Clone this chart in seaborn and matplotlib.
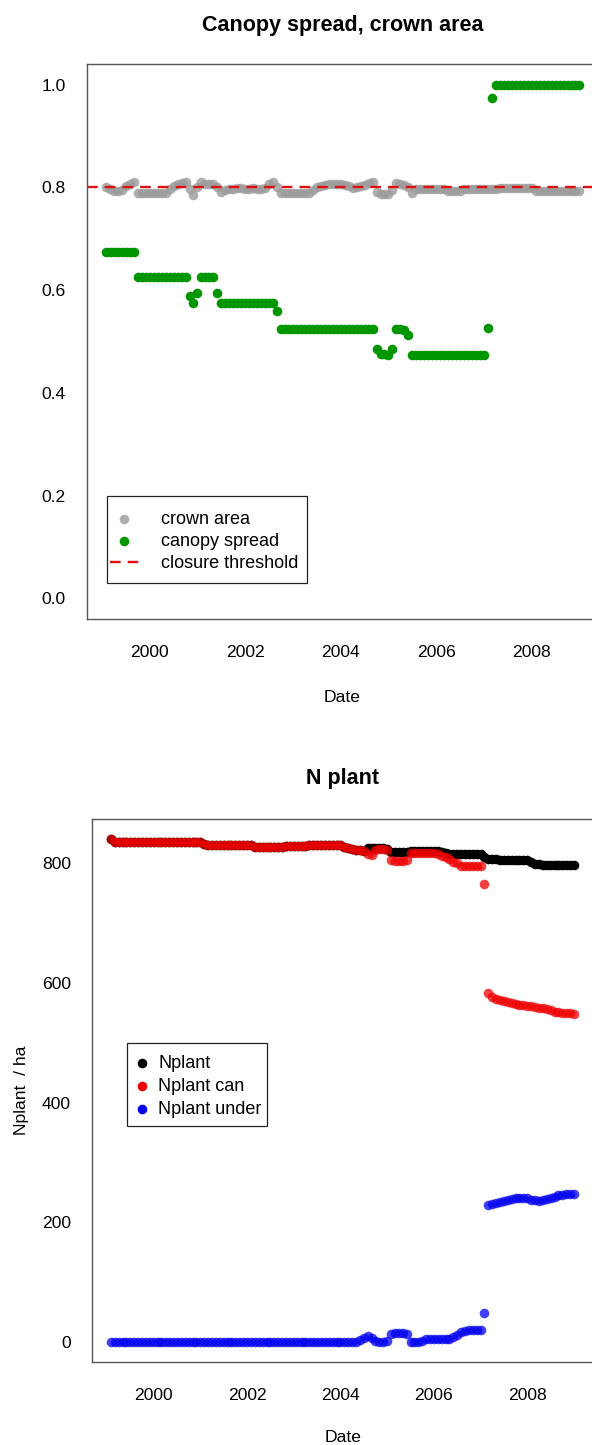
import numpy as np
import pandas as pd
import matplotlib
matplotlib.use("Agg")
import matplotlib.pyplot as plt
from matplotlib.patches import Rectangle
import seaborn as sns

# ---------------- data ----------------
months = np.arange(1, 121)
date = 1999 + months / 12.0

canopy_spread = (
    [0.675] * 8 + [0.625] * 13 + [0.589, 0.574, 0.595] + [0.625] * 4 + [0.595]
    + [0.575] * 14 + [0.560] + [0.525] * 24
    + [0.485, 0.475, 0.475, 0.473, 0.485] + [0.525, 0.525, 0.522, 0.513]
    + [0.474] * 19 + [0.526, 0.973] + [1.0] * 22
)

crown_area = (
    [0.800, 0.797, 0.793, 0.792, 0.795, 0.802, 0.806, 0.810]
    + [0.789] * 8
    + [0.797, 0.803, 0.806, 0.809, 0.810]
    + [0.797, 0.786, 0.800]
    + [0.810, 0.807, 0.807, 0.807]
    + [0.800, 0.791]
    + [0.795, 0.796, 0.797, 0.798, 0.798, 0.797, 0.797, 0.798, 0.797, 0.796, 0.798]
    + [0.806, 0.810, 0.800]
    + [0.789] * 8
    + [0.795, 0.800, 0.803, 0.805, 0.806, 0.807, 0.807, 0.807, 0.805, 0.802,
       0.799, 0.800, 0.803, 0.805, 0.808, 0.810]
    + [0.790, 0.787, 0.787, 0.788, 0.795]
    + [0.808, 0.806, 0.804, 0.800]
    + [0.789]
    + [0.796] * 8 + [0.793] * 4 + [0.797] * 9 + [0.798] * 9 + [0.793] * 12
)

nplant_can = (
    [841] + [835] * 23 + [833, 831, 830]
    + [830] * 10 + [828] * 8 + [829] * 6 + [831] * 9
    + [828, 826, 824, 823, 822, 821, 816, 814, 822, 824, 824, 823]
    + [805, 804, 804, 804, 805]
    + [818] * 7
    + [815, 813, 810, 807, 803, 800]
    + [796] * 6
    + [766, 583, 576, 574, 572, 570, 568, 566, 565, 564, 563, 562, 561, 560,
       559, 558, 556, 554, 552, 551, 550, 549, 549, 548]
)

nplant = (
    nplant_can[:66]
    + [826, 825, 825, 825, 825, 824]
    + [819, 819, 819, 819, 819]
    + [821] * 7 + [820, 819, 818]
    + [816] * 9
    + [811, 807, 807, 807]
    + [806] * 8
    + [803, 799, 799]
    + [797] * 9
)

nplant_under = (
    [0] * 64
    + [3, 7, 9, 6, 2, 0, 0, 1, 14, 15, 15, 15, 14, 0, 0, 0, 2]
    + [5] * 7
    + [8, 12, 16, 19, 20, 20, 20, 20, 48]
    + [228, 231, 233, 234, 236, 238, 239, 240, 241, 241, 240, 238, 237, 236,
       237, 239, 241, 243, 245, 246, 247, 248, 248]
)

closure_threshold = 0.8

# ---------------- style ----------------
sns.set_style("white")
plt.rcParams['font.family'] = ['Liberation Sans', 'DejaVu Sans']
plt.rcParams['text.color'] = 'black'
plt.rcParams['axes.labelcolor'] = 'black'

TICK_FS = 12.6
LEG_FS = 13.0
TITLE_FS = 15.5
SPINE_C = "#555555"
MS = 48

fig = plt.figure(figsize=(5.92, 14.45), dpi=100)
W, H = 592.0, 1445.0

rng = date.max() - date.min()
xlim = (date.min() - 0.04 * rng, date.max() + 0.04 * rng)


def axes_px(left, top, right, bottom):
    return fig.add_axes([left / W, 1 - bottom / H, (right - left) / W, (bottom - top) / H])


def frame_px(left, top, right, bottom):
    fig.add_artist(Rectangle((left / W, 1 - bottom / H), (right - left) / W,
                             (bottom - top) / H, transform=fig.transFigure,
                             fill=False, edgecolor='#222222', linewidth=0.9))


def style_axes(ax):
    for sp in ax.spines.values():
        sp.set_visible(True)
        sp.set_color(SPINE_C)
        sp.set_linewidth(1.0)
    ax.tick_params(axis='both', direction='in', length=4, width=0.8,
                   color=SPINE_C, labelsize=TICK_FS, labelcolor='black')
    ax.tick_params(axis='x', pad=19)
    ax.tick_params(axis='y', pad=15.5)
    ax.set_xlim(*xlim)
    ax.set_xticks([2000, 2002, 2004, 2006, 2008])
    ax.grid(False)


# ---------------- panel 1 ----------------
ax1 = axes_px(87, 64, 87 + 511.4, 619)
df1 = pd.DataFrame({'Date': date, 'crown': crown_area, 'spread': canopy_spread})
sns.scatterplot(data=df1, x='Date', y='crown', color='#9a9a9a', alpha=0.8, s=MS,
                linewidth=0, ax=ax1, label='crown area')
sns.scatterplot(data=df1, x='Date', y='spread', color='#009600', s=MS,
                linewidth=0, ax=ax1, label='canopy spread')
ax1.axhline(closure_threshold, color='#dd1111', lw=1.7, dashes=(4.5, 3.0),
            label='closure threshold')
ax1.set_ylim(-0.04, 1.04)
ax1.set_yticks([0.0, 0.2, 0.4, 0.6, 0.8, 1.0])
ax1.set_yticklabels(['0.0', '0.2', '0.4', '0.6', '0.8', '1.0'])
style_axes(ax1)
ax1.set_title('Canopy spread, crown area', fontsize=TITLE_FS, fontweight='bold',
              pad=24, color='black')
ax1.set_xlabel('Date', fontsize=TICK_FS)
ax1.xaxis.set_label_coords(255 / 511.4, -(697 - 619) / 555.0)
ax1.xaxis.label.set_va('center')
ax1.set_ylabel('')
leg1 = ax1.legend(loc='upper left', bbox_to_anchor=(110 / W, 1 - 511 / H),
                  bbox_transform=fig.transFigure, frameon=False,
                  fontsize=LEG_FS, borderaxespad=0, borderpad=0,
                  handlelength=1.6, handletextpad=1.22, labelspacing=0.28,
                  markerscale=1.0, labelcolor='black')
frame_px(107, 496, 307, 583)

# ---------------- panel 2 ----------------
ax2 = axes_px(92.3, 818.7, 92.3 + 500.2, 1362)
df2 = pd.DataFrame({'Date': date, 'Nplant': nplant, 'can': nplant_can,
                    'under': nplant_under})
sns.scatterplot(data=df2, x='Date', y='Nplant', color='black', s=MS,
                linewidth=0, ax=ax2, label='Nplant')
sns.scatterplot(data=df2, x='Date', y='can', color='#ee0000', alpha=0.75, s=MS,
                linewidth=0, ax=ax2, label='Nplant can')
sns.scatterplot(data=df2, x='Date', y='under', color='#0000ee', alpha=0.75, s=MS,
                linewidth=0, ax=ax2, label='Nplant under')
ymax = max(max(nplant), max(nplant_can))
ax2.set_ylim(-0.04 * ymax, 1.04 * ymax)
ax2.set_yticks([0, 200, 400, 600, 800])
style_axes(ax2)
ax2.set_title('N plant', fontsize=TITLE_FS, fontweight='bold', pad=25, color='black')
ax2.set_xlabel('Date', fontsize=TICK_FS)
ax2.xaxis.set_label_coords(250.7 / 500.2, -(1437 - 1362) / 543.3)
ax2.xaxis.label.set_va('center')
ax2.set_ylabel('Nplant  / ha', fontsize=TICK_FS)
ax2.yaxis.set_label_coords(-(92.3 - 22) / 500.2, 0.5)
ax2.yaxis.label.set_va('center')
leg2 = ax2.legend(loc='upper left', bbox_to_anchor=(135 / W, 1 - 1055 / H),
                  bbox_transform=fig.transFigure, frameon=False,
                  fontsize=LEG_FS, borderaxespad=0, borderpad=0,
                  handlelength=0.8, handletextpad=0.48, labelspacing=0.33,
                  markerscale=1.0, labelcolor='black')
for h in leg2.legend_handles:
    h.set_alpha(1)
frame_px(127, 1043, 267, 1126)

fig.savefig('out.png', dpi=100)
